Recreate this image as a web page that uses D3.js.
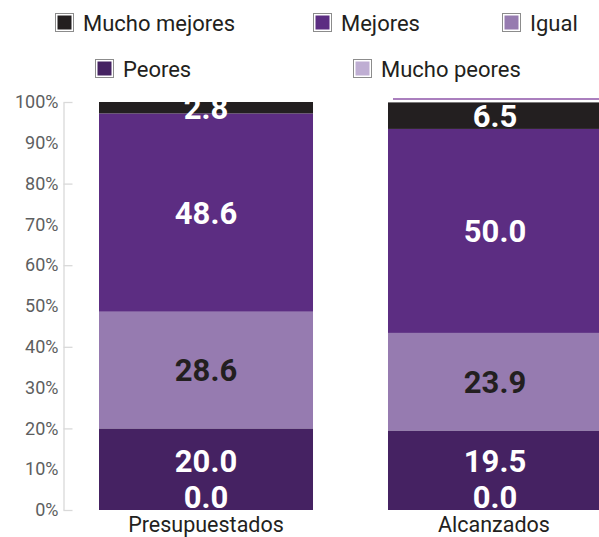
<!DOCTYPE html>
<html>
<head>
<meta charset="utf-8">
<script src="https://cdn.jsdelivr.net/npm/d3@7/dist/d3.min.js"></script>
<style>
  body { margin: 0; background: #fff; }
  svg { font-family: Roboto, sans-serif; }
</style>
</head>
<body>
<div id="chart"></div>
<script>
// categories and series (stack order: bottom to top)
const categories = ['Presupuestados', 'Alcanzados'];
const seriesNames = ['Mucho peores', 'Peores', 'Igual', 'Mejores', 'Mucho mejores'];
const muchoPeores = [0.0, 0.0];
const peores = [20.0, 19.5];
const igual = [28.6, 23.9];
const mejores = [48.6, 50.0];
const muchoMejores = [2.8, 6.5];
const yTicks = [0, 10, 20, 30, 40, 50, 60, 70, 80, 90, 100];

// legend order as shown in the picture
const legendRows = [
  ['Mucho mejores', 'Mejores', 'Igual'],
  ['Peores', 'Mucho peores'],
];

const colors = {
  'Mucho peores': '#bfaed3',
  'Peores': '#452262',
  'Igual': '#967bb0',
  'Mejores': '#5c2d82',
  'Mucho mejores': '#231f20',
};
const labelColors = { 'Igual': '#231f20' };

const width = 599;
const height = 537;
const margin = { top: 102, right: -3, bottom: 27, left: 63.5 };

const svg = d3.select('#chart').append('svg')
  .attr('width', width)
  .attr('height', height);

const table = categories.map((c, i) => ({
  category: c,
  'Mucho peores': muchoPeores[i],
  'Peores': peores[i],
  'Igual': igual[i],
  'Mejores': mejores[i],
  'Mucho mejores': muchoMejores[i],
}));

const stack = d3.stack().keys(seriesNames)(table);

const y = d3.scaleLinear()
  .domain([0, 100])
  .range([height - margin.bottom, margin.top]);

const x = d3.scaleBand()
  .domain(categories)
  .range([99, width - margin.right])
  .paddingInner(0.2595)
  .paddingOuter(0);

// axis: labels every 10, ticks every 20 pointing inward
svg.append('g')
  .attr('transform', `translate(${margin.left},0)`)
  .call(d3.axisLeft(y).tickValues(yTicks).tickSize(0).tickPadding(5)
    .tickFormat(d => `${d}%`))
  .call(g => g.select('.domain').remove())
  .call(g => g.selectAll('text')
    .attr('fill', '#5d5e60')
    .attr('font-size', 18)
    .attr('font-family', 'Roboto, sans-serif'));

svg.append('g')
  .attr('transform', `translate(${margin.left},0)`)
  .call(d3.axisLeft(y).tickValues(yTicks.filter(d => d % 20 === 0))
    .tickSizeInner(-9).tickSizeOuter(0).tickFormat(''))
  .call(g => g.selectAll('line, path').attr('stroke', '#d9d9d9').attr('stroke-width', 1.3));

// bars
const layers = svg.append('g').selectAll('g')
  .data(stack)
  .enter().append('g')
  .attr('fill', d => colors[d.key]);

layers.selectAll('rect')
  .data(d => d)
  .enter().append('rect')
  .attr('x', d => x(d.data.category))
  .attr('y', d => y(d[1]))
  .attr('width', x.bandwidth())
  .attr('height', d => y(d[0]) - y(d[1]));

// thin purple line above second bar
svg.append('line')
  .attr('x1', x(categories[1]) + 5)
  .attr('x2', width)
  .attr('y1', y(100) - 3)
  .attr('y2', y(100) - 3)
  .attr('stroke', '#8e55a8')
  .attr('stroke-width', 1.4);

// value labels, bottom-up so lower labels push upper ones away
const labels = [];
categories.forEach((c, i) => {
  let prev = null;
  stack.forEach((layer) => {
    const d = layer[i];
    const v = d[1] - d[0];
    let cy = (y(d[0]) + y(d[1])) / 2;
    if (v === 0) cy -= 13;
    if (prev !== null && prev - cy < 36) cy = prev - 36;
    prev = cy;
    labels.push({ key: layer.key, category: c, value: v, cy });
  });
});

svg.append('g').selectAll('text')
  .data(labels)
  .enter().append('text')
  .attr('x', d => x(d.category) + x.bandwidth() / 2)
  .attr('y', d => d.cy)
  .attr('dy', '0.355em')
  .attr('text-anchor', 'middle')
  .attr('font-size', 31)
  .attr('font-weight', 'bold')
  .attr('fill', d => labelColors[d.key] || '#ffffff')
  .text(d => d.value.toFixed(1));

// category labels
svg.append('g').selectAll('text')
  .data(categories)
  .enter().append('text')
  .attr('x', d => x(d) + x.bandwidth() / 2 - (d === categories[1] ? 1 : 0))
  .attr('y', height - 5)
  .attr('text-anchor', 'middle')
  .attr('font-size', 21.5)
  .attr('fill', '#231f20')
  .text(d => d);

// legend
const legendX = [[55, 313, 502], [95, 353]];
const legendY = [23, 69];
legendRows.forEach((row, r) => {
  row.forEach((name, k) => {
    const g = svg.append('g')
      .attr('transform', `translate(${legendX[r][k]},${legendY[r]})`);
    g.append('rect')
      .attr('x', 0.5).attr('y', -9.5)
      .attr('width', 18).attr('height', 18)
      .attr('fill', '#fff')
      .attr('stroke', '#8c8c8c');
    g.append('rect')
      .attr('x', 2.5).attr('y', -7.5)
      .attr('width', 14).attr('height', 14)
      .attr('fill', colors[name]);
    g.append('text')
      .attr('x', 28)
      .attr('y', 0)
      .attr('dy', '0.355em')
      .attr('font-size', 22)
      .attr('fill', '#231f20')
      .text(name);
  });
});
</script>
</body>
</html>
